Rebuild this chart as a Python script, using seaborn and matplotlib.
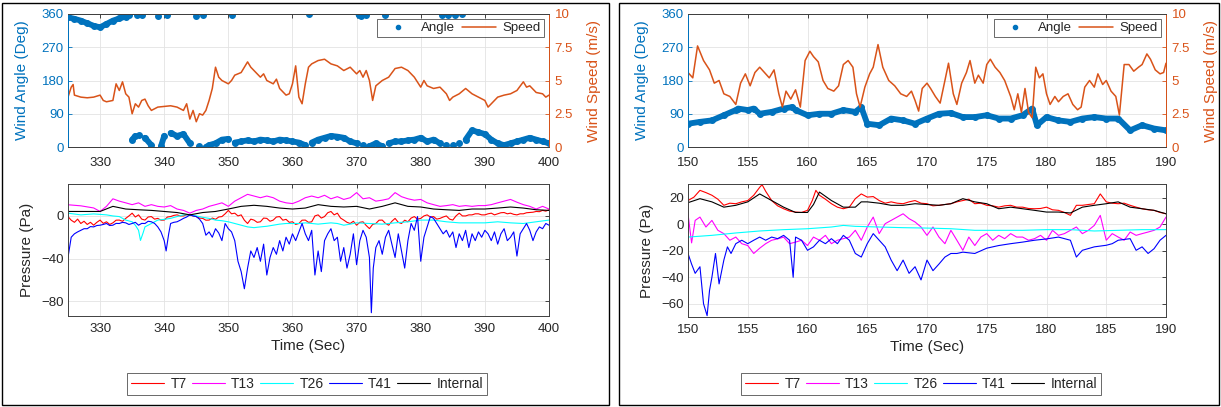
import numpy as np
import pandas as pd
import matplotlib
matplotlib.use('Agg')
import matplotlib.pyplot as plt
import seaborn as sns
from matplotlib.lines import Line2D
from matplotlib.patches import Rectangle

# ---------------- data ----------------
# left panel: 325-400 s
L_ANGLE = np.array([
    [325, 351], [326, 347], [327, 342], [328, 335], [329, 328], [330, 324], [331, 333], [332, 342],
    [333, 348], [334, 353], [334.5, 357], [335, 20], [335.5, 30], [335.8, 358], [336, 32], [336.5, 356],
    [337, 25], [338, 5], [339, 355], [339.5, 2], [340, 30], [340.5, 357], [341, 38], [342, 30],
    [343, 35], [344, 10], [345, 354], [345.5, 3], [346, 357], [346.5, 0], [347, 5], [348, 10],
    [349, 20], [350, 22], [350.5, 358], [351, 12], [352, 15], [353, 18], [354, 15], [355, 20],
    [356, 18], [357, 15], [358, 20], [359, 18], [360, 15], [361, 12], [362, 5], [362.5, 359],
    [363, 12], [364, 20], [365, 25], [366, 30], [367, 28], [368, 25], [369, 15], [370, 10],
    [370.3, 358], [370.7, 355], [371, 5], [371.5, 356], [372, 2], [373, 10], [374, 2], [374.5, 357],
    [375, 10], [376, 15], [377, 15], [378, 18], [379, 20], [380, 25], [381, 15], [382, 20],
    [383, 10], [383.3, 358], [384, 5], [384.3, 356], [385, 5], [385.3, 357], [386, 10], [386.5, 359],
    [387, 20], [388, 45], [389, 40], [390, 35], [391, 20], [392, 10], [393, 5], [394, 10],
    [395, 15], [396, 20], [397, 25], [398, 20], [399, 15], [400, 10]])

L_SPEED = np.array([
    [325, 3.75], [325.5, 4.5], [325.8, 4.7], [326, 3.9], [327, 3.75], [328, 3.7], [329, 3.75], [330, 3.9],
    [330.5, 3.5], [331, 3.4], [332, 3.5], [332.5, 4.75], [333, 4.25], [333.5, 4.9], [334, 4.0], [334.5, 3.75],
    [335, 2.5], [335.5, 3.25], [336, 3.0], [336.5, 3.5], [337, 3.6], [337.5, 3.1], [338, 2.75], [339, 3.0],
    [340, 3.05], [341, 3.1], [342, 3.0], [343, 2.75], [343.5, 3.25], [344, 2.1], [344.5, 2.75], [345, 1.9],
    [345.5, 2.5], [346, 2.4], [346.5, 2.75], [347, 3.5], [347.5, 4.4], [348, 6.0], [348.5, 5.25], [349, 5.0],
    [350, 4.75], [350.5, 5.0], [351, 5.4], [352, 5.6], [352.5, 6.0], [353, 6.4], [353.5, 6.0], [354, 5.75],
    [355, 5.25], [355.5, 5.5], [356, 5.0], [357, 4.75], [357.5, 5.1], [358, 4.4], [359, 3.9], [359.5, 4.0],
    [360, 4.75], [360.5, 6.1], [361, 3.75], [361.5, 3.25], [362, 4.75], [362.5, 6.0], [363, 6.25], [364, 6.5],
    [365, 6.6], [366, 6.25], [367, 6.1], [368, 5.75], [369, 6.0], [370, 5.5], [370.5, 5.75], [371, 5.25],
    [371.5, 5.75], [372, 5.0], [372.5, 3.5], [373, 4.6], [374, 5.0], [375, 5.25], [376, 5.9], [377, 6.0],
    [378, 5.75], [379, 5.25], [380, 4.5], [380.5, 5.0], [381, 4.6], [382, 4.4], [383, 4.5], [384, 4.0],
    [384.5, 3.5], [385, 3.75], [386, 4.0], [387, 4.4], [388, 4.0], [389, 3.75], [390, 3.5], [390.5, 3.0],
    [391, 3.25], [392, 3.75], [393, 3.9], [394, 4.0], [395, 4.25], [396, 4.9], [396.5, 4.5], [397, 4.6],
    [398, 4.1], [399, 4.0], [399.5, 3.75], [400, 3.9]])

L_T7 = np.array([
    [325, -0.6], [325.5, -4], [326, -6], [326.5, -3], [327, -7.1], [327.5, -5], [328, -8], [328.5, -6],
    [329, -8.7], [329.5, -6], [330, -3.9], [330.5, -7], [331, -5.5], [331.5, -8], [332, -6.5], [332.5, -4],
    [333, -3.9], [333.5, -5], [334, -2.3], [334.5, 0], [335, 2.6], [335.5, -1], [336, 1], [336.5, -3],
    [337, -3.9], [337.5, -1], [338, -0.6], [338.5, -3], [339, -2.3], [339.5, -4], [340, -3.9], [340.5, -1],
    [341, -0.6], [341.5, 0.5], [342, 1], [342.5, 0], [343, 0], [343.5, 1], [344, 1], [344.5, 0],
    [345, -0.6], [345.5, -2], [346, -2.3], [346.5, -4], [347, -3.9], [347.5, -2], [348, -3.2], [348.5, -1],
    [349, -0.6], [349.5, 2], [350, 5.2], [350.5, 2], [351, 2.6], [351.5, 0], [352, 1], [352.5, -4],
    [353, -7.1], [353.5, -3], [354, -3.9], [354.5, -6], [355, -5.5], [355.5, -2], [356, -2.3], [356.5, -5],
    [357, -3.9], [357.5, -1], [358, -0.6], [358.5, -4], [359, -3.2], [359.5, -6], [360, -5.5], [360.5, -8],
    [361, -7.1], [361.5, -4], [362, -3.9], [362.5, -6], [363, -5.5], [363.5, 0], [364, 1], [364.5, -2],
    [365, -0.6], [365.5, 3], [366, 4.2], [366.5, 1], [367, 2.6], [367.5, -2], [368, -3.9], [368.5, -6],
    [369, -7.1], [369.5, -5], [370, -8.7], [370.5, -6], [371, -5.5], [371.5, -9], [372, -11.9], [372.5, -8],
    [373, -7.1], [373.5, -4], [374, -3.9], [374.5, -7], [375, -8.7], [375.5, -5], [376, -2.3], [376.5, -6],
    [377, -7.1], [377.5, -4], [378, -5.5], [378.5, -2], [379, -0.6], [379.5, -3], [380, -2.3], [380.5, 0],
    [381, 1], [381.5, -1], [382, -0.6], [382.5, -3], [383, -2.3], [383.5, -1], [384, 0], [384.5, -3],
    [385, -3.9], [385.5, 0], [386, 2.6], [386.5, 0], [387, 0], [387.5, 1], [388, 1], [388.5, 2],
    [389, 2], [389.5, 1], [390, 1], [390.5, 2], [391, 2.6], [391.5, 1], [392, 2], [392.5, 3],
    [393, 3.2], [393.5, 2], [394, 2.6], [394.5, 1.5], [395, 1], [395.5, 2], [396, 2], [396.5, 3],
    [397, 3.2], [397.5, 3.5], [398, 4.2], [398.5, 4], [399, 5.2], [399.5, 4.5], [400, 5.8]])

L_T13 = np.array([
    [325, 10.5], [326, 10], [327, 9.5], [328, 8.5], [329, 7.5], [330, 4.2], [331, 9.0], [332, 16.1],
    [333, 13.9], [334, 12.3], [335, 10.6], [336, 12.3], [337, 9.0], [338, 10.6], [339, 9.0], [340, 8.4],
    [341, 9.7], [342, 6.5], [343, 5.2], [344, 2.6], [345, 5.2], [346, 6.5], [347, 9.0], [348, 10.6],
    [349, 12.3], [350, 9.0], [351, 13.9], [352, 17.1], [353, 20.3], [354, 18.7], [355, 17.1], [356, 18.7],
    [357, 17.1], [358, 13.9], [359, 12.3], [360, 11.6], [361, 13.9], [362, 17.1], [363, 18.7], [364, 17.1],
    [365, 19.4], [366, 16.1], [367, 18.1], [368, 15.5], [369, 17.1], [370, 21.9], [371, 16.1], [372, 17.1],
    [373, 13.9], [374, 14.8], [375, 16.1], [376, 21.9], [377, 18.1], [378, 16.1], [379, 14.8], [380, 15.5],
    [381, 12.3], [382, 10.6], [383, 9.0], [384, 9.7], [385, 10.6], [386, 9.0], [387, 9.7], [388, 9.0],
    [389, 9.7], [390, 9.7], [391, 10.6], [392, 12.3], [393, 13.9], [394, 15.5], [395, 12.9], [396, 10.6],
    [397, 9.0], [398, 6.5], [399, 9.0], [400, 6.5]])

L_T26 = np.array([
    [325, 2.6], [327, 1.0], [329, 1.9], [331, 1.0], [332, 0], [333, -0.6], [334, -3.9], [335, -5.5],
    [335.5, -8.7], [336, -13.5], [336.3, -23], [336.7, -16.1], [337, -10.3], [338, -7.1], [339, -3.9], [340, -3.2],
    [341, -2.3], [342, -0.6], [343, 1.0], [344, 1.0], [345, 0], [346, -1.3], [347, -2.3], [348, -3.9],
    [349, -4.5], [350, -5.5], [351, -7.1], [352, -8.7], [353, -10.3], [354, -11.0], [355, -10.3], [356, -9.7],
    [357, -8.7], [358, -7.7], [359, -7.1], [360, -7.1], [361, -7.1], [362, -6.5], [363, -7.1], [364, -7.7],
    [365, -7.1], [366, -6.5], [367, -7.1], [368, -8.7], [369, -7.7], [370, -6.5], [372, -7.1], [374, -7.7],
    [376, -6.5], [378, -5.5], [380, -3.9], [382, -3.9], [384, -5.5], [386, -6.5], [388, -6.5], [390, -6.5],
    [392, -5.5], [394, -6.5], [396, -7.1], [398, -5.5], [400, -3.9]])

L_T41 = np.array([
    [325, -39], [325.5, -20], [326, -16.8], [326.5, -15], [327, -13.5], [327.5, -12], [328, -12], [328.5, -10],
    [329, -10.3], [329.5, -9], [330, -8.7], [330.5, -8], [331, -7.1], [331.5, -9], [332, -8.7], [332.5, -7],
    [333, -7.1], [333.5, -6], [334, -6.5], [334.5, -8], [335, -7.1], [335.5, -6], [336, -8.7], [336.5, -7],
    [337, -7.1], [337.5, -5], [338, -5.5], [338.5, -7], [339, -10.3], [339.5, -15], [340, -23.2], [340.3, -32.9],
    [340.7, -16.8], [341, -7.1], [341.5, -6], [342, -5.5], [342.5, -4], [343, -2.3], [343.5, -1], [344, 1.0],
    [344.5, 0], [345, -0.6], [345.5, -3], [346, -7.1], [346.5, -18.1], [347, -15], [347.5, -20], [348, -12],
    [348.5, -16], [349, -23.2], [349.5, -7.1], [350, -12], [350.5, -15], [351, -23.2], [351.5, -42.6], [352, -52.3],
    [352.5, -68.4], [353, -49], [353.5, -32.9], [354, -39], [354.5, -29.7], [355, -42.6], [355.5, -26.5], [356, -55.5],
    [356.5, -39], [357, -29.7], [357.5, -36], [358, -23.2], [358.5, -32.9], [359, -20], [359.5, -26.5], [360, -16.8],
    [360.5, -23.2], [361, -15], [361.5, -7.1], [362, -16.8], [362.5, -23.2], [363, -13.5], [363.5, -55.5], [364, -32.9],
    [364.5, -52.3], [365, -23.2], [365.5, -16.8], [366, -12], [366.5, -23.2], [367, -20], [367.5, -42.6], [368, -29.7],
    [368.5, -49], [369, -36], [369.5, -16.8], [370, -45.8], [370.5, -23.2], [371, -13.5], [371.5, -20], [372, -39],
    [372.3, -90.9], [372.6, -49], [373, -29.7], [373.5, -23.2], [374, -36], [374.5, -20], [375, -13.5], [375.5, -26.5],
    [376, -39], [376.5, -16.8], [377, -32.9], [377.5, -49], [378, -23.2], [378.5, -7.1], [379, -13.5], [379.5, -0.6],
    [380, -42.6], [380.5, -20], [381, -10.3], [381.5, -0.6], [382, -2.3], [382.5, -7.1], [383, -12], [383.5, -16.8],
    [384, -13.5], [384.5, -20], [385, -15], [385.5, -29.7], [386, -16.8], [386.5, -23.2], [387, -13.5], [387.5, -29.7],
    [388, -16.8], [388.5, -23.2], [389, -15], [389.5, -20], [390, -13.5], [390.5, -16.8], [391, -23.2], [391.5, -15],
    [392, -26.5], [392.5, -16.8], [393, -12], [393.5, -23.2], [394, -20], [394.5, -15], [395, -37.7], [395.5, -16.8],
    [396, -12], [396.5, -7.1], [397, -13.5], [397.5, -23.2], [398, -15], [398.5, -10.3], [399, -12], [399.5, -7.1],
    [400, -8.7]])

L_INT = np.array([
    [325, 4.2], [330, 4.2], [332, 9.0], [334, 6.5], [336, 5.8], [338, 5.2], [340, 4.2], [342, 3.2],
    [344, 1.0], [346, 3.2], [348, 4.2], [350, 6.5], [352, 9.0], [354, 10.0], [356, 9.0], [358, 7.4],
    [360, 6.5], [362, 7.4], [364, 10.6], [366, 9.0], [368, 8.4], [370, 9.0], [372, 6.5], [374, 9.0],
    [376, 12.3], [378, 9.0], [380, 8.4], [382, 6.5], [384, 5.8], [386, 5.2], [388, 6.5], [390, 6.5],
    [392, 7.4], [394, 8.4], [396, 7.4], [398, 5.8], [400, 5.2]])

# right panel: 150-190 s
R_ANGLE = np.array([
    [150, 63], [151, 68], [152, 72], [153, 86], [154, 100], [154.2, 104], [155, 100], [155.5, 104],
    [156, 90], [157, 95], [158, 104], [158.7, 108], [159, 100], [160, 86], [161, 90], [162, 90],
    [163, 100], [164, 95], [164.5, 108], [165, 63], [166, 59], [167, 77], [168, 72], [169, 63],
    [170, 77], [171, 90], [172, 92], [173, 81], [174, 81], [175, 86], [176, 77], [177, 77],
    [178, 86], [178.8, 104], [179.2, 59], [180, 81], [181, 72], [182, 68], [183, 77], [184, 81],
    [185, 77], [186, 77], [187, 45], [188, 59], [189, 50], [190, 45]])

R_SPEED = np.array([
    [150.0, 5.6], [150.4, 5.2], [150.8, 7.6], [151.3, 6.5], [151.8, 5.8], [152.2, 4.8], [152.6, 5.0], [153.0, 4.0],
    [153.5, 3.8], [154.0, 3.2], [154.4, 4.8], [154.8, 5.5], [155.2, 4.6], [155.6, 5.6], [156.0, 6.0], [156.4, 5.6],
    [156.8, 5.2], [157.2, 5.8], [157.6, 4.0], [157.9, 3.0], [158.2, 4.2], [158.6, 3.6], [159.0, 4.3], [159.4, 3.0],
    [159.8, 6.5], [160.2, 7.2], [160.5, 6.8], [160.9, 6.4], [161.3, 5.0], [161.7, 4.4], [162.2, 4.2], [162.6, 4.6],
    [163.0, 6.2], [163.4, 6.5], [163.8, 6.0], [164.1, 4.0], [164.4, 3.0], [164.8, 4.5], [165.2, 5.5], [165.5, 6.0],
    [165.9, 7.7], [166.3, 6.0], [166.8, 5.0], [167.3, 4.6], [167.8, 4.0], [168.3, 3.8], [168.7, 4.2], [169.0, 3.5],
    [169.3, 2.7], [169.6, 4.4], [170.0, 4.8], [170.3, 4.4], [170.7, 3.8], [171.1, 3.3], [171.5, 5.0], [171.8, 6.3],
    [172.2, 4.0], [172.5, 3.2], [172.9, 4.8], [173.3, 5.6], [173.6, 6.5], [174.0, 4.8], [174.3, 5.4], [174.7, 4.8],
    [175.0, 6.2], [175.3, 6.6], [175.7, 6.0], [176.1, 5.6], [176.5, 5.0], [177.0, 3.8], [177.3, 2.8], [177.6, 4.0],
    [177.9, 2.6], [178.2, 4.4], [178.5, 2.6], [178.8, 2.2], [179.1, 6.0], [179.4, 5.2], [179.7, 5.5], [180.0, 4.0],
    [180.3, 3.2], [180.7, 3.8], [181.0, 3.4], [181.4, 3.8], [181.8, 4.0], [182.2, 3.2], [182.6, 2.8], [182.9, 3.0],
    [183.2, 4.5], [183.6, 5.0], [184.0, 4.5], [184.3, 5.5], [184.7, 4.7], [185.0, 5.0], [185.4, 4.2], [185.8, 3.8],
    [186.1, 2.4], [186.5, 6.2], [186.9, 6.2], [187.3, 5.7], [187.7, 6.0], [188.0, 6.2], [188.4, 7.0], [188.7, 6.6],
    [189.1, 5.8], [189.5, 5.5], [189.8, 5.6], [190.0, 6.3]])

R_T7 = np.array([
    [150, 18], [150.5, 20.6], [151, 25.7], [151.5, 24], [152, 22], [152.5, 19], [153, 14.4], [153.5, 16],
    [154, 15.6], [154.5, 17], [155, 18], [155.5, 22], [156, 28], [156.2, 30], [156.5, 25], [157, 18],
    [157.5, 14], [158, 11.8], [158.5, 10], [159, 9.3], [159.5, 9], [160, 10.6], [160.4, 18], [160.7, 25.7],
    [161, 22], [161.5, 19], [162, 15.6], [162.5, 13], [163, 11.8], [163.5, 13], [164, 19.4], [164.5, 23],
    [165, 20.6], [165.5, 21], [166, 18], [166.5, 16], [167, 17], [167.5, 16], [168, 15.6], [168.5, 17],
    [169, 18], [169.5, 16], [170, 15.6], [170.5, 14], [171, 14.4], [171.5, 15], [172, 15.6], [172.5, 17],
    [173, 18], [173.5, 19], [174, 15.6], [174.5, 16], [175, 14.4], [175.5, 14], [176, 13], [176.5, 14],
    [177, 14.4], [177.5, 13], [178, 13], [178.5, 12], [179, 11.8], [179.5, 12], [180, 13], [180.5, 11],
    [181, 10.6], [181.5, 9], [182, 6.8], [182.5, 14.4], [183, 14.4], [183.5, 15], [184, 15.6], [184.5, 23],
    [185, 17], [185.5, 16], [186, 15.6], [186.5, 16], [187, 14.4], [187.5, 13], [188, 11.8], [188.5, 11],
    [189, 10.6], [189.5, 9], [190, 8]])

R_T13 = np.array([
    [150, 8], [150.3, -14], [150.6, 3], [151, 5.5], [151.5, -2], [152, 3], [152.5, -4.5], [153, -7],
    [153.5, -12], [154, -9.6], [154.5, -14.6], [155, -16], [155.5, -22], [156, -18], [156.5, -14.6], [157, -12],
    [157.5, -11], [158, -9.6], [158.5, -14.6], [159, -13.4], [159.5, -12], [160, -16], [160.5, -9.6], [161, -12],
    [161.5, -8.3], [162, -14.6], [162.5, -12], [163, -10.8], [163.5, -9.6], [164, -4.5], [164.5, -12], [165, -2],
    [165.5, 5.5], [166, -7], [166.5, 0.5], [167, 3], [167.5, 5.5], [168, 8], [168.5, 4.3], [169, 1.8],
    [169.5, -2], [170, -8.3], [170.5, -2], [171, -9.6], [171.5, -14.6], [172, -4.5], [172.5, -12], [173, -19.6],
    [173.5, -9.6], [174, -16], [174.5, -9.6], [175, -7], [175.5, -12], [176, -8.3], [176.5, -10.8], [177, -7],
    [177.5, -9.6], [178, -9.6], [178.5, -12], [179, -10.8], [179.5, -8.3], [180, -12], [180.5, -4.5], [181, -8.3],
    [181.5, -7], [182, -4.5], [182.5, -2], [183, -7], [183.5, -4.5], [184, -0.8], [184.5, 6.8], [185, -12],
    [185.5, -7], [186, -9.6], [186.5, -12], [187, -5.8], [187.5, -8.3], [188, -7], [188.5, -5.8], [189, -4.5],
    [189.5, -2], [190, 5.5]])

R_T26 = np.array([
    [150, -9.6], [152, -8.3], [154, -6.5], [156, -5], [158, -4], [160, -3.3], [162, -2], [163, -0.8],
    [164, -1.5], [166, -2], [168, -2.5], [170, -2.8], [172, -3.3], [174, -4.5], [176, -4.5], [178, -4.5],
    [180, -4], [182, -4], [184, -5], [186, -4.5], [188, -4], [190, -4]])

R_T41 = np.array([
    [150, -22], [150.3, -30], [150.6, -37], [151, -32], [151.3, -60], [151.6, -69], [151.8, -50], [152, -40],
    [152.3, -22], [152.6, -45], [153, -27], [153.3, -17], [153.6, -22], [154, -14.6], [154.5, -12], [155, -14.6],
    [155.5, -12], [156, -9.6], [156.5, -12], [157, -9.6], [157.5, -10.8], [158, -8.3], [158.5, -12], [158.8, -40],
    [159, -9.6], [159.5, -12], [160, -19.6], [160.5, -17], [161, -12], [161.5, -14.6], [162, -10.8], [162.5, -14.6],
    [163, -8.3], [163.5, -12], [164, -22], [164.5, -24.7], [165, -14.6], [165.5, -7], [166, -12], [166.5, -17],
    [167, -27], [167.5, -35], [168, -27], [168.5, -37], [169, -32], [169.5, -42], [170, -27], [170.5, -35],
    [171, -30], [171.5, -24.7], [172, -22], [172.5, -22], [173, -21], [174, -22], [175, -18], [176, -16],
    [177, -14.6], [178, -13.4], [179, -12], [180, -11], [181, -9.6], [182, -12], [182.5, -24.7], [183, -19.6],
    [184, -17], [185, -15.8], [185.5, -14.6], [186, -12], [187, -10.8], [187.5, -19.6], [188, -17], [188.5, -22],
    [189, -18.4], [189.5, -12], [190, -8.3]])

R_INT = np.array([
    [150, 16.4], [151, 19.4], [152, 17], [153, 13], [154, 14.4], [155, 17], [156, 23], [157, 18],
    [158, 13], [159, 9], [160, 9], [160.5, 15], [161, 24.4], [162, 18], [163, 13], [164, 13],
    [164.5, 17], [165, 17], [166, 16], [167, 14.4], [168, 14.4], [169, 15.6], [170, 15], [171, 14.4],
    [172, 15.6], [173, 19.4], [174, 17], [175, 15.6], [176, 11.8], [177, 13], [178, 11.8], [179, 10.6],
    [180, 9.3], [181, 9.3], [182, 8.6], [183, 13], [184, 14.4], [185, 15.6], [186, 17], [187, 13],
    [188, 11.8], [189, 10.6], [190, 8]])

PROBES = ['T7', 'T13', 'T26', 'T41', 'Internal']
PROBE_COLORS = {'T7': '#ff0000', 'T13': '#ff00ff', 'T26': '#00ffff', 'T41': '#0000ff', 'Internal': '#000000'}
LEFT_P = {'T7': L_T7, 'T13': L_T13, 'T26': L_T26, 'T41': L_T41, 'Internal': L_INT}
RIGHT_P = {'T7': R_T7, 'T13': R_T13, 'T26': R_T26, 'T41': R_T41, 'Internal': R_INT}

ANGLE_TICKS = [0, 90, 180, 270, 360]
SPEED_TICKS = [0, 2.5, 5, 7.5, 10]
SPEED_LABELS = ['0', '2.5', '5', '7.5', '10']

BLUE = '#0072BD'
ORANGE = '#D95319'
AXC = '#404040'

# ---------------- style ----------------
sns.set_style('whitegrid')
plt.rcParams['font.family'] = ['Liberation Sans', 'DejaVu Sans']
plt.rcParams['xtick.direction'] = 'in'
plt.rcParams['ytick.direction'] = 'in'

W, H = 1221, 407
fig = plt.figure(figsize=(W / 100, H / 100), dpi=100)


def box(x0, x1, ytop, ybot):
    return [x0 / W, 1 - ybot / H, (x1 - x0) / W, (ybot - ytop) / H]


def break_wraps(arr):
    t, a = arr[:, 0].astype(float), arr[:, 1].astype(float)
    jumps = np.where(np.abs(np.diff(a)) > 180)[0] + 1
    return np.insert(t, jumps, np.nan), np.insert(a, jumps, np.nan)


def style_axes(ax, xlim, xticks):
    ax.set_xlim(*xlim)
    ax.set_xticks(xticks)
    ax.grid(True, color='#e3e3e3', lw=0.6)
    ax.set_axisbelow(True)
    for s in ax.spines.values():
        s.set_color(AXC)
        s.set_linewidth(0.7)
    ax.tick_params(labelsize=9.5, colors='#262626', length=3, width=0.6,
                   top=True, right=True, pad=3)
    ax.tick_params(axis='x', pad=5)


def wind_panel(rect, angle, speed, xlim, xticks):
    ax = fig.add_axes(box(*rect))
    t, a = break_wraps(angle)
    ax.plot(t, a, color=BLUE, lw=4.2, marker='o', ms=4, solid_capstyle='round')
    style_axes(ax, xlim, xticks)
    ax.tick_params(axis='x', pad=7)
    ax.set_ylim(0, 360)
    ax.set_yticks(ANGLE_TICKS)
    ax.tick_params(axis='y', colors=BLUE, right=False)
    ax.spines['left'].set_color(BLUE)
    ax.set_ylabel('Wind Angle (Deg)', color=BLUE, fontsize=11, labelpad=9)
    ax.set_xlabel('')

    ax2 = ax.twinx()
    sns.lineplot(x=speed[:, 0], y=speed[:, 1], ax=ax2, color=ORANGE, lw=1.1, estimator=None)
    ax2.set_ylim(0, 10)
    ax2.set_yticks(SPEED_TICKS)
    ax2.set_yticklabels(SPEED_LABELS)
    ax2.grid(False)
    for s in ax2.spines.values():
        s.set_color(AXC)
        s.set_linewidth(0.7)
    ax2.spines['right'].set_color(ORANGE)
    ax2.spines['left'].set_color(BLUE)
    ax2.tick_params(axis='y', colors=ORANGE, labelsize=9.5, length=3, width=0.6, direction='in', pad=4)
    ax2.set_ylabel('Wind Speed (m/s)', color=ORANGE, fontsize=11, labelpad=10)
    ax2.set_xlim(*xlim)

    handles = [Line2D([], [], color=BLUE, marker='.', ms=6, ls='none'),
               Line2D([], [], color=ORANGE, lw=1.1)]
    leg = ax2.legend(handles, ['Angle', 'Speed'], ncol=2, loc='upper right', fontsize=9.5,
                     frameon=True, fancybox=False, edgecolor='#262626', handlelength=2.6,
                     handletextpad=0.5, columnspacing=0.5, borderaxespad=0.35, borderpad=0.25)
    leg.get_frame().set_linewidth(0.6)
    return ax, ax2


def pressure_panel(rect, series, xlim, xticks, ylim, yticks, leg_x):
    ax = fig.add_axes(box(*rect))
    df = pd.concat([pd.DataFrame({'t': series[n][:, 0], 'p': series[n][:, 1], 'probe': n})
                    for n in PROBES], ignore_index=True)
    sns.lineplot(data=df, x='t', y='p', hue='probe', hue_order=PROBES, palette=PROBE_COLORS,
                 estimator=None, lw=0.8, legend=False, ax=ax)
    style_axes(ax, xlim, xticks)
    ax.set_ylim(*ylim)
    ax.set_yticks(yticks)
    ax.set_ylabel('Pressure (Pa)', fontsize=11, color='#262626', labelpad=5)
    ax.set_xlabel('Time (Sec)', fontsize=11, color='#262626', labelpad=3)

    handles = [Line2D([], [], color=PROBE_COLORS[n], lw=0.8) for n in PROBES]
    leg = fig.legend(handles, PROBES, ncol=5, loc='center', bbox_to_anchor=(leg_x / W, 1 - 384 / H),
                     fontsize=10, frameon=True, fancybox=False, edgecolor='#262626',
                     handlelength=2.4, handletextpad=0.45, columnspacing=0.35, borderpad=0.3)
    leg.get_frame().set_linewidth(0.6)
    return ax


# panel frames
fig.add_artist(Rectangle((2 / W, 2 / H), 607 / W, 402 / H, transform=fig.transFigure,
                         fill=False, ec='black', lw=1))
fig.add_artist(Rectangle((619 / W, 2 / H), 600 / W, 402 / H, transform=fig.transFigure,
                         fill=False, ec='black', lw=1))

wind_panel((68, 549, 14, 147), L_ANGLE, L_SPEED, (325, 400), list(range(330, 401, 10)))
pressure_panel((68, 549, 184, 316), LEFT_P, (325, 400), list(range(330, 401, 10)),
               (-94, 30), [-80, -40, 0], 307)

wind_panel((688, 1166, 14, 147), R_ANGLE, R_SPEED, (150, 190), list(range(150, 191, 5)))
pressure_panel((688, 1166, 184, 317), RIGHT_P, (150, 190), list(range(150, 191, 5)),
               (-70, 30.5), [-60, -40, -20, 0, 20], 921)

fig.savefig('out.png', dpi=100, facecolor='white')
